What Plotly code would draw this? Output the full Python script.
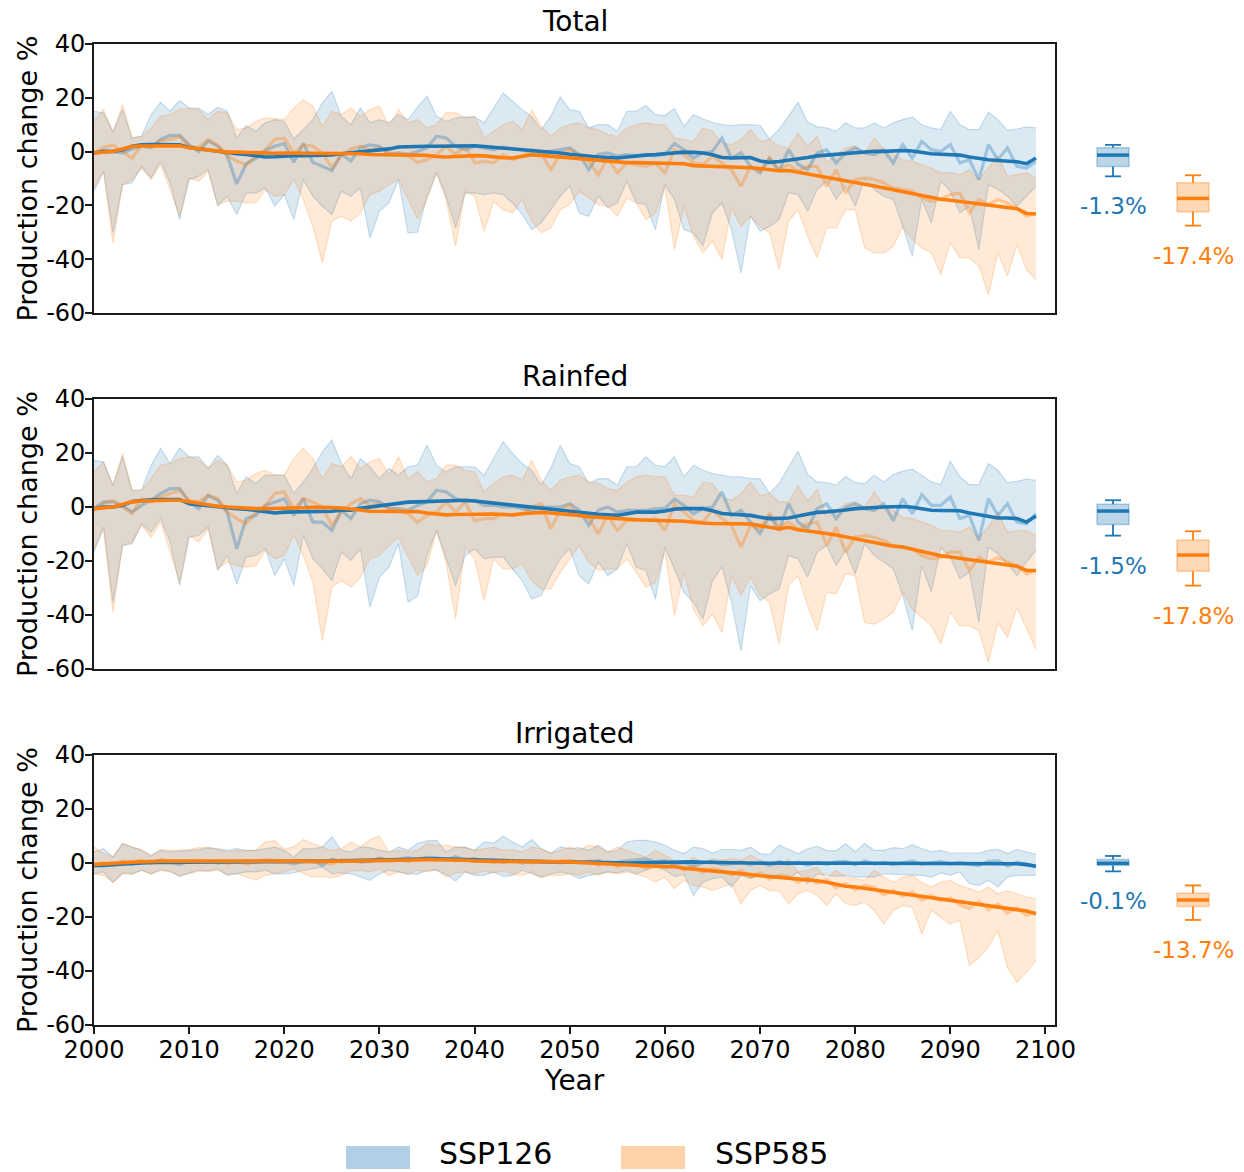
import plotly.graph_objects as go

# ---------------------------------------------------------------------------
# Data: production change (%) relative to baseline, 2000-2099
# HI / LO = model spread envelope, MEAN = annual ensemble mean,
# TREND = smoothed ensemble mean
# ---------------------------------------------------------------------------
YEARS = list(range(2000, 2100))

# ---- Total --------------------------------------------------------------
TOTAL_126_HI = [
    15.0, 14.4, 7.6, 15.6, 5.1, 5.7, 13.8, 18.3, 15.0, 19.0,
    16.2, 16.2, 13.8, 16.5, 15.0, 5.1, 9.7, 7.6, 10.7, 11.9,
    11.3, 4.7, 8.2, 11.9, 18.1, 22.4, 13.1, 10.0, 16.2, 10.7,
    11.9, 10.7, 13.8, 11.9, 16.5, 20.6, 13.1, 11.3, 12.5, 12.9,
    12.9, 10.7, 16.2, 21.8, 18.7, 15.6, 13.1, 8.2, 13.1, 20.3,
    15.6, 15.0, 8.8, 10.0, 10.0, 7.6, 15.0, 15.0, 17.1, 13.8,
    13.4, 16.0, 9.4, 13.8, 12.1, 10.9, 10.0, 9.7, 10.0, 10.0,
    9.7, 4.7, 8.2, 13.1, 18.3, 10.9, 9.2, 8.8, 7.6, 10.7,
    8.8, 8.8, 10.7, 8.8, 10.7, 11.9, 12.9, 10.0, 8.8, 8.2,
    15.0, 10.0, 8.2, 8.2, 14.6, 11.9, 7.9, 8.4, 9.2, 8.8,
]
TOTAL_126_LO = [
    -14.7, -7.3, -30.2, -12.3, -11.6, -5.5, -9.8, -3.6, -11.6, -25.3,
    -10.4, -9.2, -6.7, -20.3, -16.6, -23.4, -15.4, -15.4, -13.5, -20.3,
    -16.0, -25.3, -10.4, -16.6, -20.3, -23.4, -14.7, -16.6, -13.5, -32.1,
    -22.2, -19.1, -10.4, -30.2, -30.0, -16.6, -7.9, -16.6, -28.4, -15.4,
    -15.4, -16.0, -15.4, -16.0, -19.1, -23.4, -29.0, -26.5, -21.6, -16.6,
    -12.9, -22.8, -24.0, -16.6, -20.9, -19.1, -11.0, -19.1, -19.7, -29.0,
    -12.3, -17.8, -29.0, -30.2, -35.2, -22.8, -19.1, -29.0, -45.1, -24.0,
    -29.6, -27.8, -25.3, -15.4, -16.0, -22.2, -14.1, -11.0, -17.8, -12.9,
    -20.3, -10.4, -14.1, -16.6, -17.8, -27.8, -38.9, -17.8, -26.5, -11.0,
    -14.7, -22.8, -20.3, -36.4, -12.3, -14.1, -16.6, -20.3, -16.6, -12.9,
]
TOTAL_126_MEAN = [
    -0.5, 0.5, 0.0, -0.5, 1.0, 2.0, 1.5, 4.5, 6.0, 6.0,
    2.5, 0.0, 4.0, 2.0, -1.5, -12.0, -4.5, -2.5, 0.5, 2.0,
    3.0, -4.0, 3.0, -4.0, -5.5, -7.0, -1.0, -3.5, 1.5, 2.5,
    2.0, -1.0, -0.5, -1.0, 0.0, 1.4, 5.7, 5.1, 2.0, 0.7,
    2.0, 1.4, 0.7, 1.7, 1.0, 0.7, 0.1, -0.5, 0.1, 0.7,
    1.4, -1.1, -6.7, -1.1, -0.5, -1.7, -1.1, -1.5, -1.1, -1.7,
    -1.1, 3.0, 0.7, -2.4, -0.5, 0.1, 5.1, -2.4, -0.5, -5.5,
    -7.9, -2.4, -7.3, 0.7, -4.8, -6.7, -0.5, 0.7, -4.2, -0.5,
    1.4, -0.5, -1.1, 0.7, -4.2, 2.6, -2.4, 3.8, 0.7, 0.1,
    2.6, -4.2, -3.0, -10.4, 2.6, -3.0, 1.4, -5.5, -6.1, -3.6,
]
TOTAL_126_TREND = [
    -0.5, 0.0, 0.1, 0.7, 2.0, 2.5, 2.6, 2.6, 2.6, 2.5,
    1.5, 1.0, 0.5, 0.0, -0.5, -0.8, -1.1, -1.5, -2.0, -1.9,
    -1.6, -1.5, -1.5, -1.5, -1.5, -1.2, -0.8, -0.5, -0.2, 0.1,
    0.5, 1.0, 1.7, 1.9, 2.0, 2.0, 2.0, 2.1, 2.2, 2.2,
    2.2, 1.9, 1.6, 1.4, 1.2, 0.9, 0.5, 0.1, -0.2, -0.5,
    -1.0, -1.4, -1.7, -2.0, -2.2, -2.4, -2.0, -1.5, -1.3, -1.1,
    -0.8, -0.3, -0.2, -0.3, -0.5, -1.2, -2.2, -2.4, -2.3, -2.2,
    -3.5, -4.0, -3.7, -3.3, -2.8, -2.2, -1.6, -1.3, -1.1, -0.6,
    -0.2, 0.0, 0.1, 0.1, 0.3, 0.4, 0.2, -0.4, -0.8, -1.0,
    -1.1, -1.3, -2.0, -2.6, -3.0, -3.3, -3.5, -3.8, -4.5, -2.4,
]
TOTAL_585_HI = [
    11.3, 15.6, 6.9, 17.5, 5.1, 5.7, 8.8, 13.1, 13.8, 15.6,
    16.2, 15.6, 11.9, 15.0, 14.4, 8.2, 8.8, 11.3, 12.5, 12.1,
    11.9, 16.2, 19.3, 16.9, 9.4, 15.0, 13.8, 16.2, 13.1, 15.6,
    16.9, 9.4, 15.6, 10.7, 11.9, 8.8, 10.0, 14.4, 14.4, 12.5,
    13.1, 5.1, 7.6, 10.0, 11.3, 8.2, 15.4, 9.4, 5.7, 8.8,
    10.0, 10.7, 8.8, 8.2, 6.3, 5.7, 8.8, 10.0, 10.7, 10.0,
    10.0, 5.1, 4.5, 3.8, 8.8, 7.6, 3.2, 2.6, 4.5, 8.2,
    3.8, 4.5, 2.0, 1.4, 6.9, 2.0, 5.7, -4.0, -1.1, 1.4,
    2.0, -0.5, 5.1, 0.7, -1.1, -3.0, -3.6, -4.8, -6.1, -7.9,
    -7.9, -8.6, -6.7, -10.4, -6.1, -1.7, -9.2, -8.6, -7.9, -9.8,
]
TOTAL_585_LO = [
    -13.5, -7.3, -34.0, -12.3, -10.4, -6.1, -10.4, -4.8, -14.1, -24.0,
    -9.8, -11.0, -7.3, -19.7, -18.5, -18.5, -19.1, -19.1, -14.1, -16.6,
    -16.0, -10.4, -17.8, -27.8, -41.4, -25.9, -24.0, -25.9, -22.8, -16.0,
    -14.7, -12.3, -10.4, -17.8, -25.0, -17.8, -7.9, -17.8, -35.2, -14.7,
    -16.6, -29.6, -18.5, -21.6, -22.8, -17.8, -25.9, -30.2, -28.4, -21.6,
    -19.7, -14.7, -17.2, -19.7, -20.3, -24.0, -17.2, -19.1, -25.3, -22.8,
    -12.9, -36.4, -20.3, -31.5, -37.7, -33.3, -40.1, -20.9, -27.8, -24.0,
    -27.8, -30.2, -43.9, -25.9, -21.6, -31.5, -39.5, -28.4, -28.4, -21.6,
    -21.6, -35.8, -37.7, -37.7, -35.2, -27.8, -32.7, -35.8, -37.7, -45.7,
    -34.0, -39.5, -39.5, -42.6, -53.2, -37.7, -46.3, -34.6, -43.9, -47.6,
]
TOTAL_585_MEAN = [
    -0.5, 1.5, 2.5, 0.0, -2.5, 2.5, 2.0, 4.0, 4.5, 5.5,
    2.0, 1.5, 4.5, 2.5, -1.5, -3.5, -5.0, -1.5, 0.5, 4.5,
    5.0, -0.5, 2.5, 2.0, -0.5, -6.0, -1.5, 1.0, 2.0, 0.5,
    1.5, -0.5, -1.0, -1.5, -4.0, -3.0, -1.1, 2.0, -1.1, 2.0,
    -4.2, -3.6, -4.2, -1.1, -3.0, -1.7, 0.7, -0.5, -6.7, -1.1,
    0.7, -1.7, -3.6, -8.6, -2.4, -7.9, -4.2, -4.8, -5.5, -4.2,
    -7.9, 0.7, -1.1, -4.2, -4.8, -1.7, -4.2, -6.7, -12.9, -5.5,
    -7.3, -2.4, -6.7, -4.8, -7.3, -5.5, -5.5, -12.9, -6.7, -15.4,
    -10.4, -9.8, -10.4, -11.6, -13.5, -14.1, -14.7, -17.2, -18.5, -17.6,
    -16.0, -15.4, -22.8, -17.8, -19.7, -17.8, -19.1, -20.9, -24.0, -22.8,
]
TOTAL_585_TREND = [
    -0.5, -0.2, 0.1, 1.0, 2.0, 2.1, 2.2, 2.2, 2.2, 2.2,
    1.4, 1.0, 0.7, 0.3, -0.2, -0.2, -0.3, -0.5, -0.7, -0.6,
    -0.5, -0.5, -0.5, -0.5, -0.5, -0.5, -0.5, -0.5, -0.8, -1.1,
    -1.1, -1.1, -1.1, -1.1, -1.1, -1.4, -1.8, -2.0, -1.8, -1.6,
    -1.5, -1.6, -2.0, -2.3, -2.4, -1.8, -1.2, -1.4, -1.7, -2.0,
    -2.3, -2.7, -3.0, -3.4, -3.8, -4.0, -4.1, -4.1, -4.2, -4.3,
    -4.4, -4.4, -4.5, -5.2, -5.3, -5.4, -5.5, -5.6, -5.6, -6.0,
    -6.3, -6.8, -7.1, -7.0, -7.6, -8.2, -8.8, -9.4, -10.1, -10.8,
    -11.4, -12.1, -12.8, -13.5, -14.2, -14.8, -15.6, -16.4, -17.1, -17.7,
    -18.1, -18.5, -19.0, -19.5, -20.0, -20.4, -20.7, -21.2, -23.0, -23.2,
]

# ---- Rainfed ------------------------------------------------------------
RAINFED_126_HI = [
    17.3, 16.7, 8.1, 18.6, 6.2, 6.2, 15.5, 21.7, 16.1, 21.9,
    18.6, 18.6, 14.3, 19.2, 15.5, 5.0, 11.2, 8.7, 11.8, 11.8,
    11.8, 5.0, 9.3, 14.3, 20.4, 24.8, 16.1, 10.5, 18.0, 14.9,
    10.5, 14.3, 11.8, 14.9, 15.5, 22.9, 15.5, 13.0, 14.9, 14.9,
    14.9, 11.8, 18.0, 24.2, 19.8, 16.1, 13.6, 8.1, 14.3, 22.9,
    16.1, 14.9, 8.7, 10.5, 10.5, 8.1, 14.9, 14.9, 18.6, 15.5,
    14.9, 18.6, 11.2, 15.5, 13.6, 12.4, 11.8, 11.2, 11.2, 10.5,
    10.5, 5.0, 8.7, 14.9, 20.7, 12.0, 9.3, 9.0, 8.1, 11.4,
    9.0, 8.7, 11.8, 9.3, 12.0, 13.3, 14.0, 11.8, 9.3, 8.3,
    17.0, 11.2, 8.3, 8.3, 16.1, 13.6, 9.0, 9.5, 10.3, 9.9,
]
RAINFED_126_LO = [
    -16.7, -7.4, -35.3, -14.3, -13.6, -6.2, -9.3, -4.3, -13.0, -29.1,
    -11.2, -10.5, -7.4, -23.5, -18.0, -28.5, -18.6, -18.0, -15.5, -25.4,
    -19.2, -29.1, -10.5, -19.2, -22.9, -27.3, -16.7, -19.8, -15.5, -37.2,
    -26.0, -22.3, -13.6, -35.3, -33.0, -18.0, -8.7, -19.2, -29.1, -18.0,
    -15.5, -19.2, -18.6, -18.6, -22.9, -27.3, -34.1, -32.8, -25.4, -19.2,
    -15.5, -25.4, -28.5, -20.4, -25.4, -22.9, -13.6, -22.3, -23.5, -34.1,
    -14.9, -22.9, -31.6, -35.3, -41.5, -27.3, -22.3, -35.3, -53.3, -29.1,
    -34.7, -32.2, -30.4, -18.0, -19.2, -26.0, -16.7, -14.3, -21.7, -16.1,
    -24.8, -13.6, -18.0, -20.4, -22.9, -32.8, -45.8, -21.7, -31.6, -14.9,
    -18.6, -26.6, -24.2, -42.8, -14.9, -17.3, -21.1, -25.4, -20.4, -16.1,
]
RAINFED_126_MEAN = [
    -0.6, 1.9, 1.9, 0.6, -1.9, 0.6, 2.5, 5.0, 6.8, 6.8,
    1.9, -0.6, 4.3, 2.5, -1.9, -15.5, -4.3, -3.1, 0.6, 1.9,
    3.1, -3.1, 3.1, -5.6, -5.6, -8.7, -1.2, -4.3, 1.2, 2.5,
    1.9, -0.6, -0.6, -1.2, 0.6, 1.9, 6.2, 5.6, 3.1, 1.9,
    2.5, 0.6, 0.6, 0.0, 0.0, -0.6, -1.2, 0.0, 0.0, 0.0,
    1.2, -1.2, -6.8, -1.2, 0.0, -1.9, -1.2, -1.2, -1.2, -0.6,
    -0.6, 2.9, 0.6, -2.5, -0.6, 0.0, 5.6, -3.1, -1.2, -5.6,
    -9.9, -3.1, -8.7, 1.2, -5.6, -8.1, -0.6, 1.2, -4.3, 0.0,
    1.2, -0.6, -1.2, 1.2, -5.0, 3.1, -2.5, 4.6, 0.6, 0.6,
    3.7, -4.3, -3.1, -12.4, 3.1, -3.1, 1.2, -5.6, -6.2, -2.5,
]
RAINFED_126_TREND = [
    -0.6, 0.0, 0.0, 0.6, 2.0, 2.5, 2.7, 2.8, 2.8, 2.8,
    1.2, 0.8, 0.6, 0.2, -0.4, -0.6, -0.8, -1.2, -1.9, -2.2,
    -1.9, -1.9, -1.9, -1.9, -1.9, -1.6, -1.2, -1.2, -0.5, 0.0,
    0.6, 0.9, 1.6, 1.8, 1.9, 2.0, 2.1, 2.2, 2.3, 2.5,
    2.2, 1.8, 1.4, 1.0, 0.6, 0.2, -0.2, -0.6, -1.0, -1.3,
    -1.7, -2.1, -2.5, -2.7, -2.9, -3.1, -2.5, -1.9, -1.9, -1.9,
    -1.5, -0.8, -0.6, -0.6, -0.6, -1.4, -2.4, -2.7, -3.0, -3.1,
    -3.8, -4.3, -4.2, -4.1, -3.3, -2.5, -2.0, -1.8, -1.6, -1.1,
    -0.6, -0.3, -0.1, 0.0, 0.1, 0.2, -0.1, -0.7, -1.2, -1.3,
    -1.2, -1.4, -2.2, -2.8, -3.5, -4.1, -4.1, -4.3, -5.6, -3.3,
]
RAINFED_585_HI = [
    13.0, 16.7, 8.1, 19.8, 6.2, 6.2, 10.5, 15.5, 16.1, 18.0,
    18.6, 17.3, 14.3, 17.3, 15.5, 9.3, 9.9, 12.4, 13.6, 11.8,
    11.8, 18.0, 21.7, 18.0, 10.5, 16.1, 14.9, 18.6, 14.3, 16.7,
    18.0, 11.8, 18.6, 10.5, 13.0, 9.3, 10.5, 15.5, 15.5, 13.6,
    13.0, 5.6, 8.7, 11.2, 11.8, 9.9, 17.3, 9.9, 6.2, 9.9,
    11.2, 11.8, 9.3, 8.7, 6.8, 6.2, 9.3, 11.2, 11.8, 11.2,
    11.2, 4.3, 4.3, 3.7, 9.3, 8.7, 3.7, 2.5, 5.0, 9.3,
    4.3, 5.0, 1.9, 1.9, 7.8, 2.1, 6.6, -3.7, -1.2, 1.2,
    1.9, 0.0, 5.6, 0.6, -1.2, -3.7, -4.3, -5.6, -6.8, -8.7,
    -8.7, -9.3, -7.4, -11.2, -7.4, -1.9, -9.3, -8.7, -8.7, -10.5,
]
RAINFED_585_LO = [
    -15.5, -8.1, -39.0, -14.3, -13.0, -6.8, -11.2, -5.6, -16.7, -27.9,
    -10.5, -13.0, -8.1, -22.9, -20.4, -21.7, -22.3, -21.7, -16.1, -19.2,
    -18.0, -10.5, -18.0, -27.9, -49.6, -29.7, -27.3, -29.7, -26.0, -19.2,
    -18.0, -14.3, -11.2, -18.0, -25.4, -21.7, -8.7, -20.4, -41.5, -14.9,
    -19.2, -34.7, -19.2, -22.9, -22.9, -21.1, -27.3, -30.4, -30.4, -24.2,
    -19.2, -14.3, -20.4, -23.5, -22.9, -22.9, -19.2, -24.2, -29.7, -27.9,
    -16.1, -40.3, -24.2, -37.8, -44.0, -39.7, -46.5, -25.4, -32.8, -26.0,
    -32.8, -35.3, -50.8, -29.1, -25.4, -36.6, -45.8, -31.6, -32.2, -24.8,
    -25.4, -42.8, -43.4, -41.5, -39.0, -31.6, -37.8, -40.9, -44.0, -50.8,
    -39.0, -44.0, -44.0, -45.8, -57.6, -42.8, -48.3, -37.2, -45.2, -52.7,
]
RAINFED_585_MEAN = [
    -1.2, 1.2, 2.5, 0.0, -2.5, 3.1, 1.9, 3.7, 5.0, 6.2,
    2.5, 1.9, 4.3, 3.1, -1.9, -4.3, -6.2, -1.9, 0.6, 5.0,
    5.6, -0.6, 3.1, 1.9, 0.0, -6.8, -1.9, 1.2, 3.1, 0.6,
    1.2, -0.6, -1.2, -2.5, -5.6, -3.1, -1.9, 1.9, -1.9, 1.9,
    -5.0, -4.3, -4.3, -2.5, -3.1, -2.5, 0.0, 1.2, -8.1, -1.2,
    0.6, -3.1, -4.3, -9.9, -3.1, -8.7, -5.0, -5.0, -5.0, -4.3,
    -8.7, 1.2, -1.9, -5.0, -5.6, -1.2, -4.3, -6.8, -14.9, -6.8,
    -8.1, -2.5, -7.4, -5.6, -8.1, -6.2, -5.6, -14.3, -7.4, -16.7,
    -11.2, -10.5, -11.2, -12.4, -14.3, -14.9, -15.5, -18.0, -19.2, -18.6,
    -16.7, -16.7, -23.5, -18.6, -20.4, -18.6, -20.4, -21.7, -24.8, -23.5,
]
RAINFED_585_TREND = [
    -0.6, -0.3, 0.0, 1.0, 1.9, 2.2, 2.4, 2.5, 2.5, 2.5,
    1.9, 1.3, 0.8, 0.3, 0.0, -0.3, -0.6, -0.6, -0.6, -0.6,
    -0.6, -0.5, -0.3, -0.1, 0.0, -0.2, -0.4, -0.6, -1.1, -1.6,
    -1.6, -1.6, -1.6, -1.6, -1.7, -2.2, -2.6, -2.9, -2.8, -2.7,
    -2.6, -2.5, -2.6, -2.8, -2.9, -2.5, -2.1, -2.0, -2.2, -2.4,
    -2.6, -3.1, -3.6, -3.9, -4.1, -4.3, -4.5, -4.7, -4.9, -5.0,
    -5.1, -5.2, -5.3, -5.7, -5.9, -6.1, -6.2, -6.2, -6.2, -6.3,
    -6.9, -7.5, -8.1, -7.5, -8.4, -8.9, -9.2, -9.8, -10.4, -11.1,
    -11.8, -12.5, -13.2, -13.9, -14.5, -14.8, -15.6, -16.7, -17.5, -18.1,
    -18.5, -19.0, -19.4, -19.9, -20.4, -20.8, -21.2, -21.9, -23.5, -23.5,
]

# ---- Irrigated ----------------------------------------------------------
IRRIGATED_126_HI = [
    4.1, 5.3, 2.2, 7.2, 5.9, 4.7, 2.9, 4.7, 4.1, 4.5,
    4.7, 5.0, 5.7, 5.3, 4.7, 5.3, 4.7, 4.7, 5.3, 5.9,
    4.7, 2.2, 5.3, 5.3, 5.9, 9.7, 4.7, 4.1, 5.9, 5.7,
    4.7, 4.1, 5.9, 4.7, 7.2, 8.2, 8.4, 4.1, 5.9, 5.9,
    4.7, 7.8, 7.4, 9.9, 7.8, 5.9, 8.7, 5.3, 3.7, 5.9,
    5.3, 5.7, 4.7, 6.6, 4.1, 4.7, 7.8, 8.4, 8.4, 7.8,
    6.6, 4.7, 3.5, 5.9, 5.3, 3.7, 5.0, 5.0, 4.7, 5.9,
    3.5, 3.2, 6.6, 5.0, 3.5, 5.3, 6.2, 4.7, 4.5, 7.2,
    4.1, 7.2, 4.7, 4.7, 5.7, 5.3, 6.8, 5.3, 4.1, 4.7,
    3.7, 3.7, 3.7, 3.7, 4.7, 5.1, 3.5, 5.0, 4.1, 3.2,
]
IRRIGATED_126_LO = [
    -4.0, -3.3, -7.1, -3.7, -4.0, -2.7, -4.0, -2.5, -3.0, -5.0,
    -3.7, -2.7, -3.0, -2.1, -4.6, -4.0, -3.3, -3.3, -2.7, -4.0,
    -4.0, -3.7, -2.7, -2.1, -1.5, -4.0, -3.7, -4.0, -5.2, -6.4,
    -4.0, -2.7, -3.3, -4.0, -4.2, -2.7, -2.7, -4.2, -6.7, -3.3,
    -4.6, -4.6, -3.3, -5.0, -4.6, -2.7, -4.0, -5.2, -4.0, -3.3,
    -4.0, -5.8, -4.6, -4.0, -3.3, -3.7, -2.7, -4.0, -2.7, -1.5,
    -2.7, -5.0, -4.2, -12.0, -7.1, -5.8, -5.2, -8.9, -4.6, -5.8,
    -4.6, -5.2, -4.6, -5.8, -3.3, -7.7, -4.0, -4.6, -5.0, -4.6,
    -5.2, -5.2, -5.2, -4.0, -4.2, -4.2, -4.6, -4.6, -5.2, -3.7,
    -4.6, -3.3, -7.7, -8.3, -6.4, -8.9, -5.2, -4.6, -4.6, -4.6,
]
IRRIGATED_126_MEAN = [
    -0.8, -1.2, -0.6, 0.2, -0.4, 0.6, 0.0, 0.8, 0.2, -0.5,
    0.6, 0.3, 0.9, 0.0, 0.5, 0.2, 0.7, 0.1, 0.8, 0.3,
    0.5, -0.3, 0.6, 0.9, -0.9, 1.5, 0.4, 1.0, 0.3, 0.6,
    1.8, 1.0, 1.4, 2.0, 1.2, 2.1, 1.9, 1.0, 2.3, 1.1,
    1.6, 0.5, 1.2, 0.2, 0.9, 0.0, 0.8, 0.3, 0.6, 0.1,
    0.7, 0.0, 0.5, 0.9, -0.4, 0.3, 0.8, 1.2, 1.5, 0.4,
    0.9, -0.6, 0.2, -1.2, 0.1, 0.6, -0.5, -0.2, 0.3, -0.6,
    0.4, -0.9, 0.6, -0.4, 0.3, -0.8, 0.2, -0.5, 0.4, 0.6,
    -0.7, 0.8, -0.3, 0.2, -0.6, 0.1, 0.7, -0.4, 0.0, 0.5,
    -0.3, 0.2, -0.5, -1.0, 0.6, 0.8, -1.1, 0.3, -0.4, -1.3,
]
IRRIGATED_126_TREND = [
    -1.0, -0.8, -0.5, -0.3, 0.0, 0.1, 0.2, 0.2, 0.3, 0.3,
    0.4, 0.4, 0.4, 0.4, 0.4, 0.4, 0.4, 0.4, 0.4, 0.4,
    0.4, 0.4, 0.5, 0.5, 0.6, 0.7, 0.8, 0.9, 1.0, 1.1,
    1.3, 1.4, 1.5, 1.6, 1.6, 1.6, 1.6, 1.5, 1.4, 1.3,
    1.2, 1.0, 0.7, 0.6, 0.5, 0.4, 0.4, 0.4, 0.4, 0.4,
    0.4, 0.4, 0.3, 0.2, 0.1, 0.1, 0.0, 0.1, 0.2, 0.2,
    0.2, 0.3, 0.4, 0.4, 0.3, 0.2, 0.1, 0.0, -0.1, -0.2,
    -0.2, -0.1, 0.0, 0.0, -0.1, -0.2, -0.2, -0.2, -0.1, 0.0,
    0.0, 0.0, -0.1, -0.2, -0.2, -0.1, 0.0, 0.0, 0.0, 0.0,
    0.0, 0.0, 0.0, 0.0, 0.0, -0.1, -0.2, -0.3, -0.6, -1.2,
]
IRRIGATED_585_HI = [
    5.9, 3.5, 2.2, 7.2, 5.9, 5.0, 2.5, 5.0, 4.7, 4.7,
    5.0, 5.7, 5.7, 5.0, 4.1, 4.7, 4.5, 4.7, 7.8, 8.2,
    5.3, 5.9, 8.7, 7.2, 5.9, 4.7, 5.3, 7.8, 5.9, 8.7,
    9.9, 4.1, 4.7, 4.1, 4.7, 7.2, 6.6, 6.6, 5.9, 5.7,
    4.7, 5.3, 5.9, 4.7, 5.0, 4.1, 5.9, 5.3, 3.5, 4.7,
    5.9, 4.7, 6.6, 5.9, 4.1, 5.9, 4.7, 3.5, 2.2, 4.7,
    2.9, 1.0, -0.9, 2.2, -0.2, 1.6, 1.0, 1.6, 1.0, 2.9,
    1.0, -0.2, -1.5, 1.6, -3.3, -2.7, -1.5, -5.8, -2.7, -5.2,
    -5.8, -6.4, -2.7, -5.2, -7.1, -5.2, -4.6, -7.1, -8.9, -7.1,
    -6.4, -8.3, -9.5, -10.8, -8.9, -11.4, -10.2, -11.4, -12.6, -13.3,
]
IRRIGATED_585_LO = [
    -4.0, -4.6, -7.1, -4.0, -4.2, -2.7, -4.2, -2.7, -3.3, -4.6,
    -4.0, -3.0, -3.0, -2.7, -4.2, -4.0, -5.2, -6.2, -4.6, -4.0,
    -3.3, -2.1, -4.0, -5.2, -5.0, -5.5, -4.6, -3.0, -2.7, -3.3,
    -2.1, -4.6, -3.3, -4.2, -2.7, -3.3, -2.5, -5.2, -3.7, -3.3,
    -4.0, -3.0, -3.7, -3.0, -4.0, -4.6, -3.3, -5.5, -4.6, -4.6,
    -4.0, -4.6, -3.3, -4.6, -3.3, -4.0, -3.3, -4.2, -5.2, -7.1,
    -5.2, -9.5, -6.4, -8.3, -8.9, -10.2, -8.9, -7.7, -15.1, -10.2,
    -8.3, -10.2, -10.2, -15.1, -11.4, -10.2, -12.0, -15.7, -11.4, -15.1,
    -15.7, -14.5, -17.6, -22.6, -17.6, -15.7, -16.4, -26.3, -17.6, -20.1,
    -22.6, -21.3, -38.0, -34.9, -31.2, -25.0, -38.7, -44.2, -40.5, -36.2,
]
IRRIGATED_585_MEAN = [
    -0.6, 0.0, -1.0, 0.8, 0.4, 1.0, -0.2, 1.2, 0.6, 0.9,
    0.2, 1.0, 0.4, 0.8, -0.2, 0.7, -0.4, 0.6, 1.2, 1.0,
    0.3, 1.1, 0.9, 0.2, 0.5, -0.3, 1.2, 0.6, 1.4, 0.4,
    1.8, 0.7, 1.1, 0.5, 1.6, 1.9, 1.0, 1.5, 0.8, 1.4,
    0.6, 1.0, 0.2, 1.2, 0.4, 0.9, 0.1, 1.0, 0.3, 0.8,
    1.0, 0.2, 0.7, -0.8, 0.4, -1.4, -0.2, -0.6, -2.0, -0.5,
    -1.8, -0.7, -2.6, -1.4, -3.5, -2.0, -3.0, -4.4, -2.8, -5.2,
    -3.6, -6.0, -4.5, -5.0, -7.2, -5.4, -7.5, -6.3, -9.1, -7.6,
    -10.0, -8.2, -9.0, -11.8, -10.1, -12.3, -10.6, -13.8, -12.0, -14.1,
    -12.9, -15.6, -16.8, -14.2, -17.3, -15.2, -18.5, -16.6, -19.4, -18.1,
]
IRRIGATED_585_TREND = [
    -0.5, -0.4, -0.2, 0.1, 0.3, 0.5, 0.6, 0.7, 0.7, 0.7,
    0.6, 0.6, 0.5, 0.5, 0.4, 0.4, 0.4, 0.4, 0.4, 0.4,
    0.4, 0.4, 0.4, 0.5, 0.6, 0.6, 0.7, 0.7, 0.8, 0.9,
    1.0, 1.0, 1.0, 1.1, 1.2, 1.2, 1.2, 1.2, 1.1, 1.0,
    0.8, 0.6, 0.6, 0.6, 0.6, 0.6, 0.6, 0.6, 0.6, 0.6,
    0.4, 0.2, 0.0, -0.3, -0.5, -0.7, -0.9, -1.0, -1.1, -1.2,
    -1.3, -1.4, -1.9, -2.2, -2.5, -2.9, -3.2, -3.6, -3.9, -4.3,
    -4.7, -5.0, -5.3, -5.5, -5.8, -6.2, -6.6, -7.1, -8.0, -8.6,
    -8.9, -9.4, -9.9, -10.4, -10.8, -11.4, -11.9, -12.4, -12.9, -13.3,
    -13.9, -14.5, -15.1, -15.6, -16.0, -16.4, -17.0, -17.4, -17.8, -18.8,
]

# ---- Late-century summary boxes: [low whisker, Q1, median, Q3, high whisker]
BOX_TOTAL_126 = [-9.2, -5.5, -1.3, 1.4, 2.5]
BOX_TOTAL_585 = [-27.5, -22.4, -17.4, -11.6, -8.8]
BOX_RAINFED_126 = [-10.6, -6.5, -1.5, 1.0, 2.5]
BOX_RAINFED_585 = [-29.1, -23.8, -17.8, -12.2, -9.0]
BOX_IRRIGATED_126 = [-3.1, -0.9, -0.1, 1.3, 2.6]
BOX_IRRIGATED_585 = [-21.1, -16.1, -13.7, -11.2, -8.3]

SCENARIOS = ["SSP126", "SSP585"]
X_TICKS = list(range(2000, 2101, 10))
Y_TICKS = [-60, -40, -20, 0, 20, 40]
Y_TICK_LABELS = ["-60", "-40", "-20", "0", "20", "40"]

PANELS = [
    {
        "title": "Total",
        "series": [
            (TOTAL_126_HI, TOTAL_126_LO, TOTAL_126_MEAN, TOTAL_126_TREND, BOX_TOTAL_126),
            (TOTAL_585_HI, TOTAL_585_LO, TOTAL_585_MEAN, TOTAL_585_TREND, BOX_TOTAL_585),
        ],
    },
    {
        "title": "Rainfed",
        "series": [
            (RAINFED_126_HI, RAINFED_126_LO, RAINFED_126_MEAN, RAINFED_126_TREND, BOX_RAINFED_126),
            (RAINFED_585_HI, RAINFED_585_LO, RAINFED_585_MEAN, RAINFED_585_TREND, BOX_RAINFED_585),
        ],
    },
    {
        "title": "Irrigated",
        "series": [
            (IRRIGATED_126_HI, IRRIGATED_126_LO, IRRIGATED_126_MEAN, IRRIGATED_126_TREND, BOX_IRRIGATED_126),
            (IRRIGATED_585_HI, IRRIGATED_585_LO, IRRIGATED_585_MEAN, IRRIGATED_585_TREND, BOX_IRRIGATED_585),
        ],
    },
]

# ---------------------------------------------------------------------------
# Styling / geometry
# ---------------------------------------------------------------------------
W, H = 1244, 1172
FONT = "DejaVu Sans"
INK = "#1a1a1a"
COLORS = [(31, 119, 180), (255, 127, 14)]


def rgba(c, a):
    return f"rgba({c[0]},{c[1]},{c[2]},{a})"


def fx(px):
    return px / W


def fy(px):
    return 1 - px / H


MAIN_X = [fx(94), fx(1055)]
BOX_X = [fx(1073), fx(1233)]
PANEL_PX = [(44, 313), (399, 669), (755, 1025)]
BOX_POS = [0.0, 1.0]
BOX_HALF = 0.2
CAP_HALF = 0.1

fig = go.Figure()
layout = dict(
    width=W,
    height=H,
    margin=dict(l=0, r=0, t=0, b=0, pad=0),
    paper_bgcolor="white",
    plot_bgcolor="white",
    showlegend=False,
    font=dict(family=FONT, color="black"),
)
annotations = []
shapes = []

for i, panel in enumerate(PANELS):
    n = i + 1
    top, bottom = PANEL_PX[i]
    ydom = [fy(bottom), fy(top)]
    xm, ym = ("x", "y") if n == 1 else (f"x{n}", f"y{n}")
    xb, yb = f"x{n + 3}", f"y{n + 3}"
    last = n == len(PANELS)

    # envelopes
    for (hi, lo, mean, trend, box), col in zip(panel["series"], COLORS):
        fig.add_trace(go.Scatter(
            x=YEARS, y=hi, mode="lines", xaxis=xm, yaxis=ym,
            line=dict(color=rgba(col, 0.22), width=1.2), hoverinfo="skip"))
        fig.add_trace(go.Scatter(
            x=YEARS, y=lo, mode="lines", xaxis=xm, yaxis=ym, fill="tonexty",
            fillcolor=rgba(col, 0.16),
            line=dict(color=rgba(col, 0.22), width=1.2), hoverinfo="skip"))
    # annual ensemble means
    for (hi, lo, mean, trend, box), col in zip(panel["series"], COLORS):
        fig.add_trace(go.Scatter(
            x=YEARS, y=mean, mode="lines", xaxis=xm, yaxis=ym,
            line=dict(color=rgba(col, 0.33), width=3.2), hoverinfo="skip"))
    # smoothed trends
    for (hi, lo, mean, trend, box), col in zip(panel["series"], COLORS):
        fig.add_trace(go.Scatter(
            x=YEARS, y=trend, mode="lines", xaxis=xm, yaxis=ym,
            line=dict(color=rgba(col, 1), width=3.6), hoverinfo="skip"))

    # summary boxes
    for (hi, lo, mean, trend, box), col, c in zip(panel["series"], COLORS, BOX_POS):
        low, q1, med, q3, high = box
        fig.add_trace(go.Scatter(
            x=[c - BOX_HALF, c + BOX_HALF, c + BOX_HALF, c - BOX_HALF, c - BOX_HALF],
            y=[q1, q1, q3, q3, q1], mode="lines", fill="toself",
            fillcolor=rgba(col, 0.3), line=dict(color=rgba(col, 0.35), width=1.5),
            xaxis=xb, yaxis=yb, hoverinfo="skip"))
        fig.add_trace(go.Scatter(
            x=[c, c, None, c, c, None, c - CAP_HALF, c + CAP_HALF, None, c - CAP_HALF, c + CAP_HALF],
            y=[high, q3, None, q1, low, None, high, high, None, low, low],
            mode="lines", line=dict(color=rgba(col, 1), width=1.8),
            xaxis=xb, yaxis=yb, hoverinfo="skip"))
        fig.add_trace(go.Scatter(
            x=[c - BOX_HALF, c + BOX_HALF], y=[med, med], mode="lines",
            line=dict(color=rgba(col, 1), width=3.5),
            xaxis=xb, yaxis=yb, hoverinfo="skip"))
        annotations.append(dict(
            x=c, y=low, xref=xb, yref=yb, text=f"{med:.1f}%", showarrow=False,
            xanchor="center", yanchor="middle", yshift=-30,
            font=dict(size=23, color=rgba(col, 1), family=FONT)))

    axis_common = dict(showline=True, mirror=True, linecolor=INK, linewidth=1.6,
                       showgrid=False, zeroline=False, ticklen=7, tickwidth=1.5,
                       automargin=False, tickcolor=INK, ticklabelstandoff=-5,
                       tickfont=dict(size=24, color="black", family=FONT))
    xkey = "xaxis" if n == 1 else f"xaxis{n}"
    ykey = "yaxis" if n == 1 else f"yaxis{n}"
    layout[xkey] = dict(axis_common, domain=MAIN_X, range=[2000, 2101], anchor=ym,
                        tickmode="array", tickvals=X_TICKS,
                        ticks="outside" if last else "", showticklabels=last)
    layout[ykey] = dict(axis_common, domain=ydom, range=[-60, 40], anchor=xm,
                        tickmode="array", tickvals=Y_TICKS, ticktext=Y_TICK_LABELS,
                        ticks="outside")
    layout[f"xaxis{n + 3}"] = dict(domain=BOX_X, range=[-0.5, 1.5], anchor=yb,
                                   visible=False, automargin=False)
    layout[f"yaxis{n + 3}"] = dict(domain=ydom, range=[-60, 40], anchor=xb,
                                   visible=False, automargin=False)

    # panel title
    annotations.append(dict(
        x=(MAIN_X[0] + MAIN_X[1]) / 2, y=fy(top - 22), xref="paper", yref="paper",
        text=panel["title"], showarrow=False, xanchor="center", yanchor="middle",
        font=dict(size=28, color="black", family=FONT)))
    # y-axis label
    annotations.append(dict(
        x=fx(27), y=fy((top + bottom) / 2), xref="paper", yref="paper",
        text="Production change %", showarrow=False, textangle=-90,
        xanchor="center", yanchor="middle",
        font=dict(size=27, color="black", family=FONT)))

# x-axis label
annotations.append(dict(
    x=(MAIN_X[0] + MAIN_X[1]) / 2, y=fy(1080), xref="paper", yref="paper",
    text="Year", showarrow=False, xanchor="center", yanchor="middle",
    font=dict(size=28, color="black", family=FONT)))

# legend
LEGEND_PATCH_PX = [(346, 410), (621, 685)]
LEGEND_TEXT_PX = [437, 713]
for name, col, (x0, x1), tx in zip(SCENARIOS, COLORS, LEGEND_PATCH_PX, LEGEND_TEXT_PX):
    shapes.append(dict(
        type="rect", xref="paper", yref="paper", x0=fx(x0), x1=fx(x1),
        y0=fy(1169), y1=fy(1146), line=dict(width=0), fillcolor=rgba(col, 0.35)))
    annotations.append(dict(
        x=fx(tx), y=fy(1153), xref="paper", yref="paper", text=name,
        showarrow=False, xanchor="left", yanchor="middle",
        font=dict(size=30, color="black", family=FONT)))

layout["annotations"] = annotations
layout["shapes"] = shapes
fig.update_layout(**layout)
fig.write_html("out.html")
